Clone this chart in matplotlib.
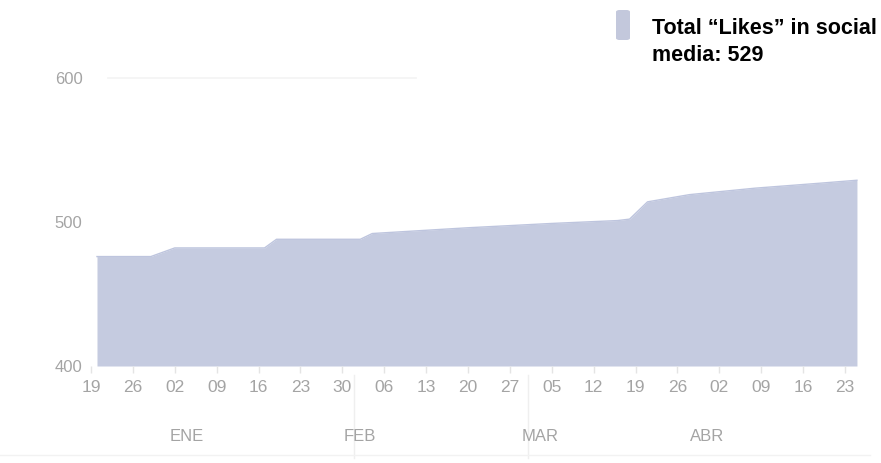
import numpy as np
import matplotlib.pyplot as plt
import matplotlib.dates as mdates
import matplotlib.transforms as mtransforms
from matplotlib.patches import FancyBboxPatch

plt.rcParams["font.family"] = ["Liberation Sans", "DejaVu Sans"]

# Total likes, read at the corners of the curve
dates = np.array(["2011-12-20", "2011-12-29", "2012-01-02", "2012-01-17",
                  "2012-01-19", "2012-02-02", "2012-02-04", "2012-02-12",
                  "2012-02-20", "2012-03-05", "2012-03-16", "2012-03-18",
                  "2012-03-21", "2012-03-28", "2012-04-08", "2012-04-19",
                  "2012-04-25"], dtype="datetime64[D]")
likes = [476, 476, 482, 482, 488, 488, 492, 494, 496, 499, 501, 502,
         514, 519, 523.5, 527, 529]

months = ["ENE", "FEB", "MAR", "ABR"]
month_pos = np.array(["2012-01-04", "2012-02-02", "2012-03-03", "2012-03-31"],
                     dtype="datetime64[D]")
first_week = np.datetime64("2011-12-19")
last_week = np.datetime64("2012-04-23")
legend_text = "Total \u201cLikes\u201d in social\nmedia: 529"

W, H = 881, 463
fig = plt.figure(figsize=(W / 100, H / 100), dpi=100)

# axes placed in pixels: 400 at y=366, top at y=60, x from 88 to 870
ax = fig.add_axes([88 / W, (H - 366) / H, (870 - 88) / W, (366 - 60) / H])

x = mdates.date2num(dates)
fill_color = "#c5cbe0"
ax.fill_between(x, likes, 400, color=fill_color, lw=0)
ax.plot(x, likes, color="#bec5de", lw=1.0)

px_day = 5.984
base = mdates.date2num(first_week)
ax.set_xlim(base - 3 / px_day, base + (870 - 91) / px_day)
ax.set_ylim(400, 600 + 18 / 1.44)

# faint grid line at 600
ax.axhline(600, xmin=0.025, xmax=0.42, color="#f3f3f3", lw=1.2)

weeks = np.arange(first_week, last_week + np.timedelta64(1, "D"),
                  np.timedelta64(7, "D"))
ax.set_xticks(mdates.date2num(weeks))
ax.xaxis.set_major_formatter(mdates.DateFormatter("%d"))
ax.set_yticks([400, 500, 600])

for s in ax.spines.values():
    s.set_visible(False)
ax.tick_params(axis="x", colors="#e4e4e4", length=5, width=1, pad=5,
               labelcolor="#a4a4a4", labelsize=12.5)
ax.tick_params(axis="y", length=0, pad=4, labelcolor="#a4a4a4",
               labelsize=12)

# month names under the day numbers
trans = mtransforms.blended_transform_factory(ax.transData, ax.transAxes)
for name, d in zip(months, mdates.date2num(month_pos)):
    ax.text(d, -0.232, name, transform=trans, ha="center", va="center",
            fontsize=12, color="#a4a4a4")

# month separators under the axis
for d in ["2012-02-01", "2012-03-01"]:
    ax.plot([mdates.date2num(np.datetime64(d))] * 2, [-0.03, -0.3],
            transform=trans, color="#efefef", lw=1, clip_on=False)

# thin rule at the bottom
fig.add_artist(plt.Line2D([0, 870 / W], [(H - 455) / H] * 2,
                          color="#f2f2f2", lw=1))

# legend swatch and label
fig.add_artist(FancyBboxPatch((616 / W, (H - 40) / H), 14 / W, 30 / H,
                              boxstyle="round,pad=0,rounding_size=0.004",
                              transform=fig.transFigure, color="#c3c8dc",
                              lw=0))
fig.text(652 / W, (H - 18) / H, legend_text, ha="left", va="top",
         fontsize=15.5, fontweight="bold", linespacing=1.35, color="black")

fig.savefig("out.png", dpi=100)
